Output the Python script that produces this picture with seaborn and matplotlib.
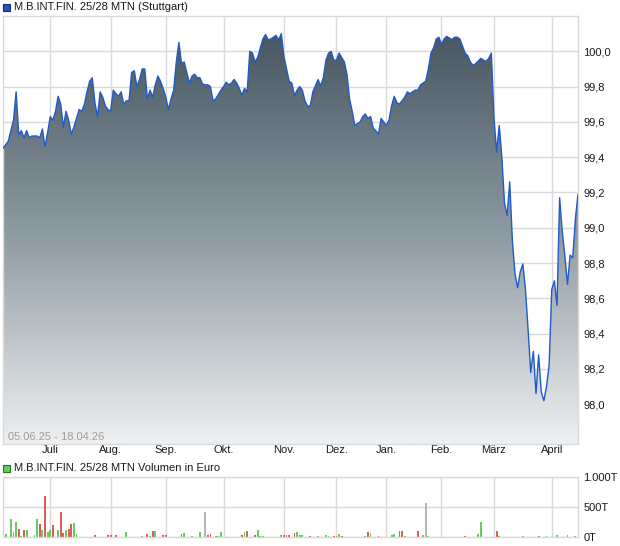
import numpy as np
import pandas as pd
import matplotlib
matplotlib.use("Agg")
import matplotlib.pyplot as plt
import seaborn as sns
from matplotlib.colors import LinearSegmentedColormap
from matplotlib.patches import Rectangle, Polygon

# ---------------- data ----------------
title = "M.B.INT.FIN. 25/28 MTN (Stuttgart)"
vol_title = "M.B.INT.FIN. 25/28 MTN Volumen in Euro"
range_label = "05.06.25 - 18.04.26"
first_day = "2025-06-05"
last_day = "2026-04-17"
holidays = ["2025-12-24", "2025-12-25", "2025-12-26", "2025-12-31",
            "2026-01-01", "2026-04-03", "2026-04-06"]
month_labels = ["Juli", "Aug.", "Sep.", "Okt.", "Nov.", "Dez.", "Jan.", "Feb.", "März", "April"]

price = [
    99.45, 99.47, 99.49, 99.55, 99.61, 99.77, 99.53, 99.55, 99.51, 99.55,
    99.51, 99.52, 99.52, 99.52, 99.51, 99.56, 99.46, 99.54, 99.63, 99.61,
    99.66, 99.745, 99.70, 99.57, 99.66, 99.61, 99.53, 99.57, 99.62, 99.67,
    99.66, 99.70, 99.77, 99.83, 99.85, 99.71, 99.63, 99.77, 99.74, 99.69,
    99.67, 99.66, 99.78, 99.76, 99.745, 99.77, 99.70, 99.72, 99.72, 99.88,
    99.89, 99.80, 99.84, 99.90, 99.90, 99.73, 99.78, 99.74, 99.81, 99.86,
    99.83, 99.79, 99.74, 99.67, 99.73, 99.78, 99.94, 100.05, 99.93, 99.94,
    99.88, 99.82, 99.86, 99.87, 99.85, 99.85, 99.815, 99.81, 99.81, 99.80,
    99.72, 99.73, 99.755, 99.78, 99.80, 99.825, 99.81, 99.82, 99.84, 99.82,
    99.79, 99.75, 99.79, 99.77, 100.0, 99.99, 99.94, 99.965, 100.02, 100.07,
    100.095, 100.065, 100.07, 100.08, 100.09, 100.065, 100.10, 99.97, 99.90, 99.83,
    99.82, 99.75, 99.78, 99.80, 99.78, 99.72, 99.69, 99.69, 99.77, 99.805,
    99.84, 99.805, 99.85, 99.95, 99.99, 100.0, 99.95, 99.95, 99.99, 99.965,
    99.94, 99.87, 99.73, 99.66, 99.58, 99.59, 99.60, 99.63, 99.645, 99.62,
    99.63, 99.565, 99.55, 99.53, 99.62, 99.60, 99.58, 99.61, 99.69, 99.745,
    99.71, 99.70, 99.72, 99.74, 99.77, 99.76, 99.77, 99.78, 99.78, 99.81,
    99.82, 99.83, 99.90, 99.99, 100.02, 100.07, 100.08, 100.04, 100.07, 100.085,
    100.075, 100.066, 100.08, 100.08, 100.07, 100.03, 99.99, 99.975, 99.94, 99.92,
    99.93, 99.945, 99.96, 99.95, 99.943, 99.96, 99.99, 99.62, 99.43, 99.58,
    99.40, 99.14, 99.07, 99.26, 98.93, 98.74, 98.66, 98.75, 98.795, 98.65,
    98.42, 98.18, 98.30, 98.06, 98.28, 98.07, 98.02, 98.10, 98.22, 98.65,
    98.70, 98.56, 99.17, 98.98, 98.84, 98.68, 98.845, 98.83, 99.05, 99.19,
]

# trading-day index of each volume bar, volume in thousand euro, direction
vol_idx = [1, 3, 4, 5, 6, 7, 8, 9,
           12, 13, 14, 15, 16, 17, 18, 19,
           21, 22, 23, 24, 25, 26, 27, 28,
           35, 40, 41, 43, 47,
           53, 55, 56, 57, 58, 61, 62,
           68, 69, 72, 75, 77, 78, 79,
           81, 82, 83,
           91, 92, 93, 96, 97, 98, 99,
           106, 107, 108, 109, 111, 112, 113, 114,
           117, 120, 121, 123, 124, 126, 127, 128, 129,
           138, 139, 140, 143,
           148, 149, 151, 152, 153, 158,
           160, 161, 162, 163,
           176, 181, 182, 185, 188, 189,
           192, 193, 195, 198,
           204, 205, 207, 211, 215, 218]
vol_val = [43, 304, 76, 255, 141, 16, 125, 125,
           33, 304, 223, 125, 679, 76, 125, 207,
           109, 418, 60, 109, 141, 223, 239, 43,
           27, 27, 27, 27, 76,
           16, 43, 16, 92, 92, 27, 27,
           43, 60, 16, 76, 418, 27, 43,
           16, 16, 76,
           27, 76, 92, 27, 125, 16, 16,
           27, 27, 27, 27, 60, 76, 27, 27,
           17, 17, 6, 33, 17, 17, 11, 50, 17,
           17, 83, 67, 17,
           33, 50, 100, 100, 17, 100,
           33, 567, 17, 6,
           17, 50, 250, 6, 100, 11,
           6, 6, 6, 17,
           17, 6, 17, 33, 33, 17]
vol_dir = ["up", "up", "up", "up", "down", "up", "down", "up",
           "up", "up", "down", "up", "down", "up", "up", "down",
           "up", "down", "down", "up", "down", "down", "up", "up",
           "down", "down", "down", "down", "up",
           "up", "down", "up", "down", "up", "down", "down",
           "down", "up", "up", "up", "none", "down", "down",
           "up", "up", "up",
           "down", "up", "down", "down", "up", "up", "up",
           "up", "down", "down", "down", "down", "up", "up", "up",
           "down", "up", "down", "up", "up", "down", "down", "up", "down",
           "up", "down", "up", "down",
           "up", "up", "down", "down", "up", "down",
           "up", "none", "up", "up",
           "down", "up", "up", "up", "down", "up",
           "down", "up", "down", "up",
           "down", "down", "up", "up", "up", "up"]

# ---------------- setup ----------------
sns.set_theme(style="white")
plt.rcParams["font.family"] = ["Liberation Sans", "DejaVu Sans"]

dates = pd.bdate_range(first_day, last_day).difference(pd.to_datetime(holidays))
n = len(dates)
df = pd.DataFrame({"idx": np.arange(n), "date": dates, "price": price[:n]})
month_pos = [i for i in range(1, n) if dates[i].month != dates[i - 1].month]

vdf = pd.DataFrame({"idx": vol_idx, "vol": vol_val, "dir": vol_dir})

W, H = 620, 546
fig = plt.figure(figsize=(W / 100, H / 100), dpi=100)
fig.patch.set_facecolor("white")

grid_c = "#d9d9d9"
txt_c = "#1a1a1a"
fs = 8

def fx(px):
    return px / W

def fy(py):
    return 1 - py / H

# ---------------- price panel ----------------
ax = fig.add_axes([fx(3), fy(444), fx(575), 428 / H])
ymin, ymax = 97.775, 100.2
top = max(price)

cmap = LinearSegmentedColormap.from_list("g", ["#eef0f2", "#909ca4", "#475660"])
grad = np.linspace(1, 0, 256).reshape(-1, 1)
im = ax.imshow(grad, extent=[0, n - 1, ymin, top], aspect="auto", cmap=cmap,
               vmin=0, vmax=1, zorder=1, interpolation="bilinear")
verts = np.column_stack([[0] + list(df["idx"]) + [n - 1],
                         [ymin] + list(df["price"]) + [ymin]])
poly = Polygon(verts, closed=True, facecolor="none", edgecolor="none")
ax.add_patch(poly)
im.set_clip_path(poly)

sns.lineplot(data=df, x="idx", y="price", ax=ax, color="#1f5bc9", linewidth=1.0, zorder=3)

ax.set_xlim(0, n - 1)
ax.set_ylim(ymin, ymax)
yt = np.round(np.arange(98.0, 100.01, 0.2), 1)
ax.set_yticks(yt)
ax.set_yticklabels([f"{v:.1f}".replace(".", ",") for v in yt], fontsize=fs, color=txt_c)
ax.yaxis.tick_right()
ax.set_xticks(month_pos)
ax.set_xticklabels(month_labels, fontsize=fs, color=txt_c)
ax.tick_params(axis="both", length=0)
ax.tick_params(axis="y", pad=4)
ax.tick_params(axis="x", pad=1)
ax.set_xlabel("")
ax.set_ylabel("")
ax.grid(True, color=grid_c, linewidth=1)
ax.set_axisbelow(True)
for s in ax.spines.values():
    s.set_color(grid_c)
    s.set_linewidth(1)
    s.set_visible(True)
ax.set_facecolor("white")

fig.text(fx(8), fy(437), range_label, fontsize=fs, color="#a39c92", va="center", ha="left")

# legend top
fig.patches.append(Rectangle((fx(3), fy(11)), fx(7), 7 / H, transform=fig.transFigure,
                             facecolor="#1f55c6", edgecolor="#1a2c66", linewidth=0.8))
fig.text(fx(14), fy(7.5), title, fontsize=fs, color=txt_c, va="center", ha="left")

# ---------------- volume panel ----------------
axv = fig.add_axes([fx(3), fy(537), fx(575), 60 / H])
sns.barplot(data=vdf, x="idx", y="vol", hue="dir", native_scale=True, dodge=False,
            palette={"up": "#5fcf5f", "down": "#de5c5c", "none": "#b5b5b5"},
            width=0.7, legend=False, errorbar=None, linewidth=0, saturation=1, ax=axv)
for p in axv.patches:
    p.set_antialiased(False)
axv.set_xlim(0, n - 1)
axv.set_ylim(0, 1000)
axv.set_yticks([0, 500, 1000])
axv.set_yticklabels(["0T", "500T", "1.000T"], fontsize=fs, color=txt_c)
axv.yaxis.tick_right()
axv.set_xticks(month_pos)
axv.set_xticklabels([])
axv.tick_params(axis="both", length=0)
axv.tick_params(axis="y", pad=4)
axv.set_xlabel("")
axv.set_ylabel("")
axv.grid(True, color=grid_c, linewidth=1)
axv.set_axisbelow(True)
for s in axv.spines.values():
    s.set_color(grid_c)
    s.set_linewidth(1)
    s.set_visible(True)

fig.patches.append(Rectangle((fx(3), fy(472)), fx(7), 7 / H, transform=fig.transFigure,
                             facecolor="#5fcf5f", edgecolor="#2f6f2f", linewidth=0.8))
fig.text(fx(14), fy(468), vol_title, fontsize=fs, color=txt_c, va="center", ha="left")

fig.savefig("out.png", dpi=100, facecolor="white")
